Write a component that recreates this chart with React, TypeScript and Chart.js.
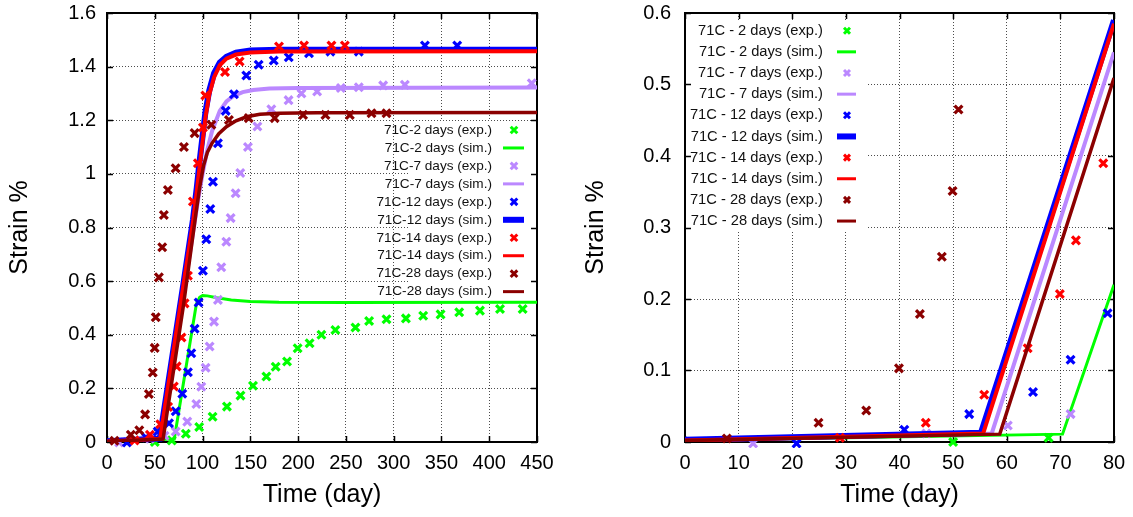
import React, { useEffect, useRef } from "react";
import { Chart, registerables } from "chart.js";
Chart.register(...registerables);

const FONT = '"Liberation Sans", Arial, Helvetica, sans-serif';

// ---------- experimental data ----------
const green2ExpDays = [50, 67.8, 82.5, 96.5, 110.5, 125.5, 139.7, 152.8, 166.8, 176.5, 188.4, 199.5, 212, 224.4, 239, 260, 274.3, 292.5, 312.8, 330.9, 349.1, 368.6, 390.3, 411.3, 435];
const green2ExpStrain = [0, 0.006, 0.031, 0.056, 0.094, 0.132, 0.173, 0.21, 0.244, 0.281, 0.3, 0.35, 0.368, 0.4, 0.418, 0.427, 0.451, 0.458, 0.461, 0.471, 0.476, 0.484, 0.49, 0.496, 0.496];

const purple7ExpDays = [12.7, 45, 60.2, 71.9, 84, 93.5, 98.7, 103.2, 107.4, 112, 116.1, 119.6, 124.9, 129.4, 134.6, 139.5, 147.5, 157.4, 172, 190, 203.5, 219.9, 244.7, 263.5, 289, 311.7, 444.5];
const purple7ExpStrain = [-0.002, 0.012, 0.023, 0.039, 0.076, 0.142, 0.206, 0.277, 0.356, 0.449, 0.53, 0.652, 0.747, 0.835, 0.928, 1.003, 1.1, 1.177, 1.241, 1.275, 1.3, 1.307, 1.32, 1.323, 1.33, 1.332, 1.338];

const blue12ExpDays = [20.8, 40.9, 53, 64.9, 71.9, 78.8, 84.7, 88.2, 91.7, 95.9, 100.4, 103.9, 108.1, 110.9, 116.1, 124.2, 132.9, 145.8, 158.7, 174.5, 190.2, 211.4, 233.8, 263.5, 332.7, 366.5];
const blue12ExpStrain = [-0.002, 0.017, 0.039, 0.07, 0.115, 0.18, 0.26, 0.331, 0.422, 0.52, 0.639, 0.756, 0.869, 0.971, 1.114, 1.235, 1.297, 1.367, 1.407, 1.423, 1.435, 1.45, 1.456, 1.456, 1.479, 1.479];

const red14ExpDays = [28.9, 44.9, 55.8, 63.9, 69.9, 72.9, 78, 81.2, 84.7, 89.9, 95.1, 100.4, 102.9, 123.5, 138.8, 180, 206.2, 234.9, 248.9];
const red14ExpStrain = [0.006, 0.027, 0.066, 0.131, 0.207, 0.282, 0.39, 0.517, 0.62, 0.897, 1.04, 1.173, 1.292, 1.38, 1.419, 1.475, 1.479, 1.479, 1.479];

const darkRed28ExpDays = [7.8, 24.9, 33.8, 39.9, 43.8, 47.9, 49.9, 51, 54.3, 57.8, 59.5, 63.7, 71.8, 80.5, 91.7, 109.2, 127.6, 148.3, 175.5, 205.2, 228.6, 254.1, 276.8, 292.5];
const darkRed28ExpStrain = [0.005, 0.027, 0.044, 0.103, 0.179, 0.259, 0.351, 0.465, 0.614, 0.726, 0.847, 0.94, 1.021, 1.1, 1.152, 1.183, 1.201, 1.208, 1.208, 1.22, 1.22, 1.22, 1.226, 1.226];

// ---------- simulated data ----------
const green2SimDays = [0, 70.4, 80, 93.5, 97, 100, 105, 115, 130, 150, 180, 250, 450];
const green2SimStrain = [0.002, 0.011, 0.22, 0.515, 0.54, 0.546, 0.545, 0.538, 0.53, 0.524, 0.521, 0.52, 0.521];

const purple7SimDays = [0, 57.2, 80, 90, 95, 100, 105, 110, 118, 125, 132, 142, 153, 170, 200, 450];
const purple7SimStrain = [0.002, 0.012, 0.545, 0.78, 0.895, 1.0, 1.09, 1.16, 1.235, 1.27, 1.29, 1.305, 1.313, 1.318, 1.32, 1.322];

const blue12SimDays = [0, 55.2, 80, 90, 94, 97, 100, 103, 107, 112, 118, 125, 135, 150, 180, 450];
const blue12SimStrain = [0.003, 0.013, 0.59, 0.83, 0.95, 1.05, 1.14, 1.23, 1.31, 1.375, 1.415, 1.437, 1.452, 1.46, 1.463, 1.463];

const red14SimDays = [0, 55.6, 80, 90, 94, 97, 100, 103, 107, 112, 118, 125, 135, 150, 180, 450];
const red14SimStrain = [0.002, 0.012, 0.585, 0.82, 0.935, 1.03, 1.12, 1.21, 1.295, 1.36, 1.405, 1.43, 1.445, 1.453, 1.456, 1.457];

const darkRed28SimDays = [0, 58.7, 80, 88, 93, 97, 101, 105, 110, 117, 125, 135, 146, 160, 180, 220, 450];
const darkRed28SimStrain = [0.002, 0.011, 0.509, 0.72, 0.85, 0.95, 1.03, 1.08, 1.115, 1.15, 1.176, 1.198, 1.213, 1.222, 1.226, 1.228, 1.229];

// ---------- labels & ticks ----------
const leftLegendLabels = [
  "71C-2 days (exp.)", "71C-2 days (sim.)",
  "71C-7 days (exp.)", "71C-7 days (sim.)",
  "71C-12 days (exp.)", "71C-12 days (sim.)",
  "71C-14 days (exp.)", "71C-14 days (sim.)",
  "71C-28 days (exp.)", "71C-28 days (sim.)",
];
const rightLegendLabels = [
  "71C - 2 days (exp.)", "71C - 2 days (sim.)",
  "71C - 7 days (exp.)", "71C - 7 days (sim.)",
  "71C - 12 days (exp.)", "71C - 12 days (sim.)",
  "71C - 14 days (exp.)", "71C - 14 days (sim.)",
  "71C - 28 days (exp.)", "71C - 28 days (sim.)",
];
const leftXTicks = [0, 50, 100, 150, 200, 250, 300, 350, 400, 450];
const leftYTicks = [0, 0.2, 0.4, 0.6, 0.8, 1, 1.2, 1.4, 1.6];
const rightXTicks = [0, 10, 20, 30, 40, 50, 60, 70, 80];
const rightYTicks = [0, 0.1, 0.2, 0.3, 0.4, 0.5, 0.6];
const xTitle = "Time (day)";
const yTitle = "Strain %";

const seriesColors = ["#00ff00", "#bb88ff", "#0000ff", "#ff0000", "#8b0000"];
const simLineWidths = [3, 4, 6, 4, 3.5];
const legendLineWidths = [3, 3, 6, 3, 3];

const expSeries = [
  [green2ExpDays, green2ExpStrain],
  [purple7ExpDays, purple7ExpStrain],
  [blue12ExpDays, blue12ExpStrain],
  [red14ExpDays, red14ExpStrain],
  [darkRed28ExpDays, darkRed28ExpStrain],
];
const simSeries = [
  [green2SimDays, green2SimStrain],
  [purple7SimDays, purple7SimStrain],
  [blue12SimDays, blue12SimStrain],
  [red14SimDays, red14SimStrain],
  [darkRed28SimDays, darkRed28SimStrain],
];

function pts(xs: number[], ys: number[]) {
  return xs.map((x, i) => ({ x, y: ys[i] }));
}

function buildDatasets(labels: string[]) {
  const ds: any[] = [];
  for (let s = 0; s < 5; s++) {
    const c = seriesColors[s];
    ds.push({
      label: labels[2 * s],
      data: pts(expSeries[s][0], expSeries[s][1]),
      showLine: false,
      pointStyle: "crossRot",
      pointRadius: 5.5,
      pointBorderWidth: 3.2,
      borderColor: c,
      backgroundColor: c,
      clip: { left: 6, top: 0, right: 0, bottom: 6 },
      order: 9 - 2 * s,
    });
    ds.push({
      label: labels[2 * s + 1],
      data: pts(simSeries[s][0], simSeries[s][1]),
      showLine: true,
      pointRadius: 0,
      borderWidth: simLineWidths[s],
      borderColor: c,
      backgroundColor: c,
      tension: 0,
      order: 8 - 2 * s,
    });
  }
  return ds;
}

type LegendCfg = {
  labels: string[];
  box: [number, number, number, number];
  textRight: number;
  markX: number;
  lineX0: number;
  lineX1: number;
  y0: number;
  dy: number;
  fontSize: number;
  mark: number;
};

function makePlugin(cfg: LegendCfg) {
  return {
    id: "gnuplotDecor",
    beforeDatasetsDraw(chart: any) {
      const ctx = chart.ctx;
      const a = chart.chartArea;
      ctx.save();
      ctx.fillStyle = "#ffffff";
      const [bx0, by0, bx1, by1] = cfg.box;
      ctx.fillRect(bx0, by0, bx1 - bx0, by1 - by0);
      ctx.strokeStyle = "#000";
      ctx.lineWidth = 2;
      ctx.strokeRect(a.left, a.top, a.right - a.left, a.bottom - a.top);
      ctx.lineWidth = 1.5;
      const tl = 6;
      const xs = chart.scales.x;
      const ys = chart.scales.y;
      ctx.beginPath();
      xs.ticks.forEach((t: any) => {
        const p = Math.round(xs.getPixelForValue(t.value)) + 0.5;
        ctx.moveTo(p, a.bottom);
        ctx.lineTo(p, a.bottom - tl);
        ctx.moveTo(p, a.top);
        ctx.lineTo(p, a.top + tl);
      });
      ys.ticks.forEach((t: any) => {
        const p = Math.round(ys.getPixelForValue(t.value)) + 0.5;
        ctx.moveTo(a.left, p);
        ctx.lineTo(a.left + tl, p);
        ctx.moveTo(a.right, p);
        ctx.lineTo(a.right - tl, p);
      });
      ctx.stroke();
      ctx.restore();
    },
    afterDatasetsDraw(chart: any) {
      const ctx = chart.ctx;
      ctx.save();
      ctx.font = `${cfg.fontSize}px ${FONT}`;
      ctx.textAlign = "right";
      ctx.textBaseline = "middle";
      cfg.labels.forEach((label, i) => {
        const y = cfg.y0 + i * cfg.dy;
        ctx.fillStyle = "#111";
        ctx.fillText(label, cfg.textRight, y);
        const s = Math.floor(i / 2);
        const c = seriesColors[s];
        ctx.strokeStyle = c;
        ctx.beginPath();
        if (i % 2 === 0) {
          const m = cfg.mark;
          ctx.lineWidth = 3;
          ctx.moveTo(cfg.markX - m, y - m);
          ctx.lineTo(cfg.markX + m, y + m);
          ctx.moveTo(cfg.markX - m, y + m);
          ctx.lineTo(cfg.markX + m, y - m);
        } else {
          ctx.lineWidth = legendLineWidths[s];
          ctx.moveTo(cfg.lineX0, y);
          ctx.lineTo(cfg.lineX1, y);
        }
        ctx.stroke();
      });
      ctx.restore();
    },
  };
}

function fmt(v: number) {
  return String(Number(v.toFixed(3)));
}

function makeConfig(opts: {
  labels: string[];
  xMax: number;
  yMax: number;
  xTicks: number[];
  yTicks: number[];
  axisWidth: number;
  rightPad: number;
  yLabelPad: number;
  yTitlePad: number;
  legend: LegendCfg;
}) {
  const tickFont = { family: FONT, size: 20 };
  const titleFont = { family: FONT, size: 25 };
  return {
    type: "scatter",
    data: { datasets: buildDatasets(opts.labels) },
    options: {
      animation: false,
      responsive: false,
      maintainAspectRatio: false,
      events: [],
      layout: { padding: { top: 13, right: opts.rightPad, left: 0, bottom: 0 } },
      plugins: { legend: { display: false }, tooltip: { enabled: false } },
      scales: {
        x: {
          type: "linear",
          position: "bottom",
          min: 0,
          max: opts.xMax,
          afterBuildTicks: (s: any) => {
            s.ticks = opts.xTicks.map((v) => ({ value: v }));
          },
          afterFit: (s: any) => {
            s.height = 75;
            s.paddingLeft = 0;
            s.paddingRight = 0;
            s.paddingTop = 0;
            s.paddingBottom = 0;
          },
          ticks: {
            font: tickFont,
            color: "#000",
            padding: 9,
            maxRotation: 0,
            autoSkip: false,
            callback: (v: any) => fmt(Number(v)),
          },
          grid: { color: "rgba(0,0,0,0.7)", lineWidth: 1, drawTicks: false },
          border: { display: false, dash: [1, 2] },
          title: {
            display: true,
            text: xTitle,
            font: titleFont,
            color: "#000",
            padding: { top: 0, bottom: 7 },
          },
        },
        y: {
          type: "linear",
          position: "left",
          min: 0,
          max: opts.yMax,
          afterBuildTicks: (s: any) => {
            s.ticks = opts.yTicks.map((v) => ({ value: v }));
          },
          afterFit: (s: any) => {
            s.width = opts.axisWidth;
            s.paddingTop = 0;
            s.paddingBottom = 0;
            s.paddingLeft = 0;
            s.paddingRight = 0;
          },
          ticks: {
            font: tickFont,
            color: "#000",
            padding: opts.yLabelPad,
            autoSkip: false,
            callback: (v: any) => fmt(Number(v)),
          },
          grid: { color: "rgba(0,0,0,0.7)", lineWidth: 1, drawTicks: false },
          border: { display: false, dash: [1, 2] },
          title: {
            display: true,
            text: yTitle,
            font: titleFont,
            color: "#000",
            padding: { top: opts.yTitlePad, bottom: 0 },
          },
        },
      },
    },
    plugins: [makePlugin(opts.legend)],
  };
}

export default function App() {
  const leftRef = useRef<HTMLCanvasElement>(null);
  const rightRef = useRef<HTMLCanvasElement>(null);

  useEffect(() => {
    const left = new Chart(
      leftRef.current as HTMLCanvasElement,
      makeConfig({
        labels: leftLegendLabels,
        xMax: 450,
        yMax: 1.6,
        xTicks: leftXTicks,
        yTicks: leftYTicks,
        axisWidth: 107,
        rightPad: 29,
        yLabelPad: 11,
        yTitlePad: 5,
        legend: {
          labels: leftLegendLabels,
          box: [408, 121, 537, 300],
          textRight: 492,
          markX: 514,
          lineX0: 503,
          lineX1: 524,
          y0: 130,
          dy: 17.96,
          fontSize: 13.6,
          mark: 3.3,
        },
      }) as any
    );
    const right = new Chart(
      rightRef.current as HTMLCanvasElement,
      makeConfig({
        labels: rightLegendLabels,
        xMax: 80,
        yMax: 0.6,
        xTicks: rightXTicks,
        yTicks: rightYTicks,
        axisWidth: 119,
        rightPad: 19,
        yLabelPad: 14,
        yTitlePad: 15,
        legend: {
          labels: rightLegendLabels,
          box: [119, 20, 300, 232],
          textRight: 257,
          markX: 281,
          lineX0: 271,
          lineX1: 290,
          y0: 30.7,
          dy: 21.15,
          fontSize: 14.7,
          mark: 3,
        },
      }) as any
    );
    return () => {
      left.destroy();
      right.destroy();
    };
  }, []);

  return (
    <div
      style={{
        position: "fixed",
        left: 0,
        top: 0,
        width: 1133,
        height: 517,
        background: "#fff",
        overflow: "hidden",
      }}
    >
      <canvas
        ref={leftRef}
        width={566}
        height={517}
        style={{ position: "absolute", left: 0, top: 0, width: 566, height: 517 }}
      />
      <canvas
        ref={rightRef}
        width={567}
        height={517}
        style={{ position: "absolute", left: 566, top: 0, width: 567, height: 517 }}
      />
    </div>
  );
}
